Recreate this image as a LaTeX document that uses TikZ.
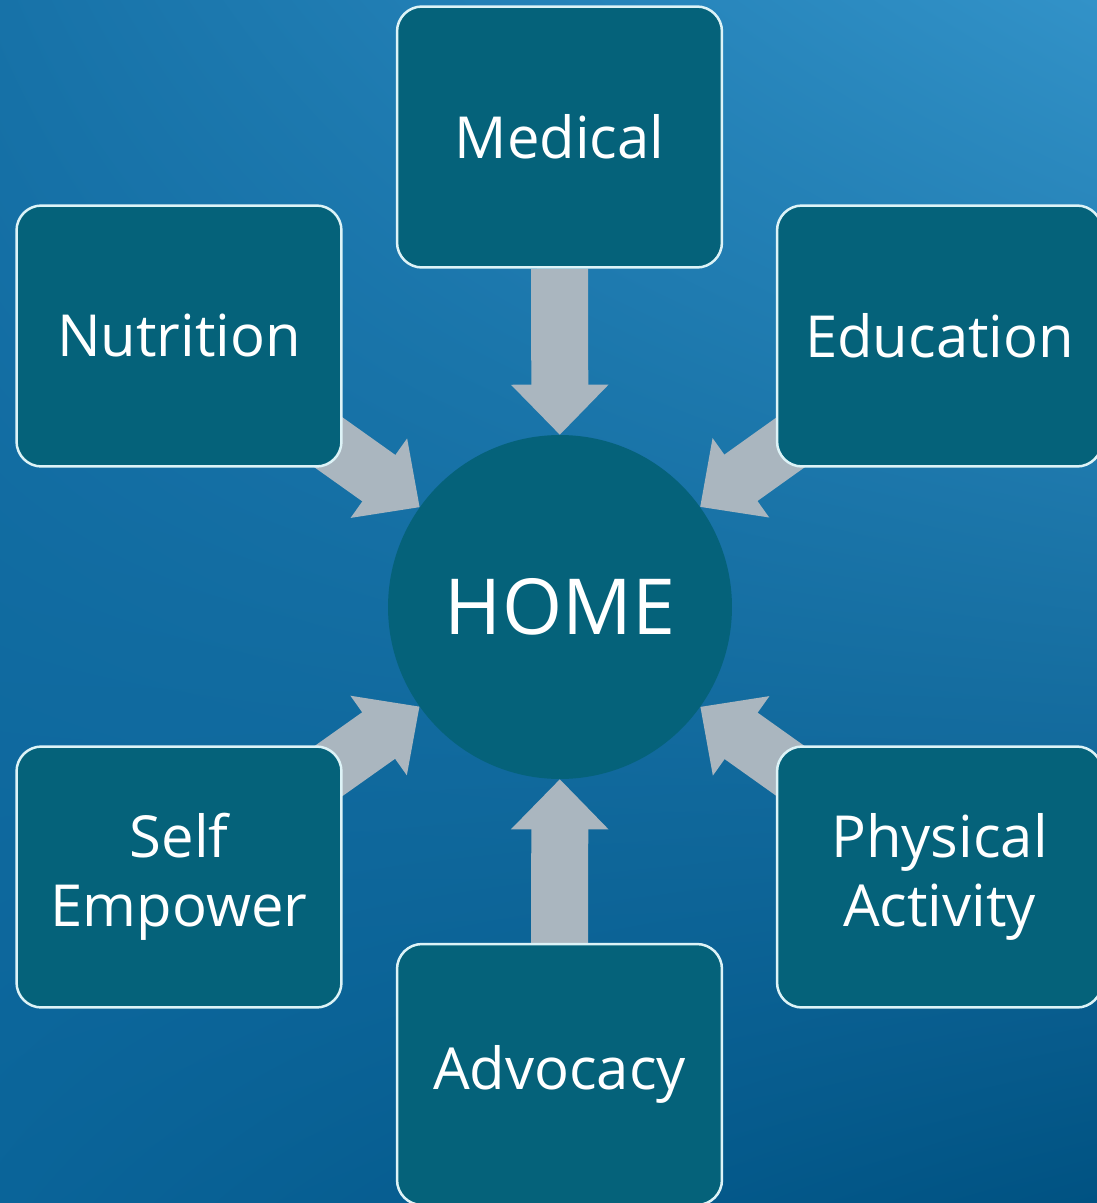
\documentclass[tikz,border=0pt]{standalone}
\usepackage{fontspec}
\setmainfont{Open Sans}
\usetikzlibrary{arrows.meta,shadings}

\pgfdeclarelayer{bg}
\pgfsetlayers{bg,main}

\definecolor{boxteal}{HTML}{05627A}
\definecolor{boxline}{HTML}{DDF3F7}
\definecolor{arrowgrey}{HTML}{AAB6BF}
\definecolor{skyUL}{HTML}{1772A8}
\definecolor{skyUR}{HTML}{3292C8}
\definecolor{skyLL}{HTML}{0A6499}
\definecolor{skyLR}{HTML}{005282}

\tikzset{
	areabox/.style={draw=boxline, line width=0.05cm, fill=boxteal, rounded corners=0.5cm,
		minimum width=6.5cm, minimum height=5.22cm, align=center, text=white,
		font=\fontsize{33}{39}\selectfont},
	homecircle/.style={circle, fill=boxteal, minimum size=6.88cm, text=white,
		font=\fontsize{44}{50}\selectfont},
	fatarrow/.style={draw=arrowgrey, line width=1.14cm,
		-{Triangle[width=1.94cm, length=1cm, line width=0.06cm, fill=arrowgrey, color=arrowgrey]}}
}

\begin{document}
\begin{tikzpicture}[x=0.02cm, y=-0.02cm]
		\useasboundingbox (0,0) rectangle (1097,1203);
		\clip (0,0) rectangle (1097,1203);
		\begin{pgfonlayer}{bg}
			\shade[upper left=skyUL, upper right=skyUR, lower left=skyLL, lower right=skyLR]
				(0,0) rectangle (1097,1203);
		\end{pgfonlayer}

		% centre
		\node[homecircle] (home) at (560,607) {HOME};

		% surrounding areas
		\node[areabox] (medical) at (559.5,137) {Medical};
		\node[areabox] (nutrition) at (179,336) {Nutrition};
		\node[areabox] (education) at (939.5,336) {Education};
		\node[areabox] (selfemp) at (179,877) {Self\\Empower};
		\node[areabox] (physical) at (939.5,877) {Physical\\Activity};
		\node[areabox] (advocacy) at (559.5,1074.5) {Advocacy};

		% arrows into the centre
		\begin{pgfonlayer}{bg}
			\draw[fatarrow] (medical) -- (home);
			\draw[fatarrow] (advocacy) -- (home);
			\draw[fatarrow] (nutrition.center) -- (home);
			\draw[fatarrow] (education.center) -- (home);
			\draw[fatarrow] (selfemp.center) -- (home);
			\draw[fatarrow] (physical.center) -- (home);
		\end{pgfonlayer}
	\end{tikzpicture}
\end{document}
